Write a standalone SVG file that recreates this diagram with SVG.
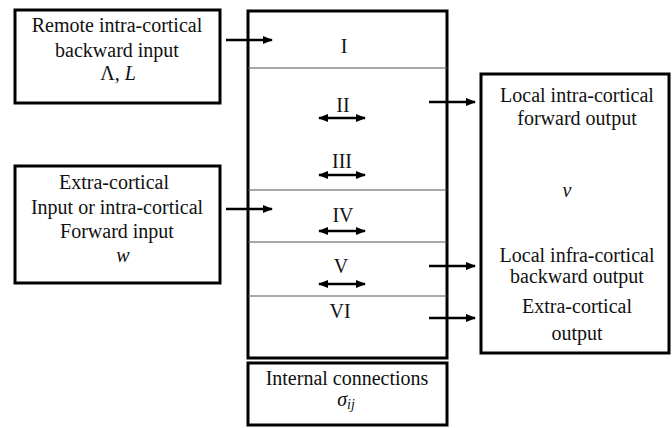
<svg xmlns="http://www.w3.org/2000/svg" width="672" height="428" viewBox="0 0 672 428">
<defs>
<style>
.box{fill:#fff;stroke:#000;stroke-width:3}
.layer{fill:none;stroke:#555;stroke-width:1.2}
.t{font-family:"Liberation Serif","Times New Roman",serif;font-size:20px;fill:#111;text-anchor:middle}
.m{font-style:italic}
.ar{stroke:#000;stroke-width:2.5;fill:none}
</style>
<marker id="ah" viewBox="0 0 10 10" refX="9" refY="5" markerWidth="10" markerHeight="10" markerUnits="userSpaceOnUse" orient="auto-start-reverse">
<path d="M0,1 L10,5 L0,9 Z" fill="#000"/>
</marker>
</defs>
<rect width="672" height="428" fill="#fff"/>
<g id="remote-input">
<rect class="box" x="15" y="10" width="205" height="93"/>
<text class="t" x="117" y="32">Remote intra-cortical</text>
<text class="t" x="117" y="57">backward input</text>
<text class="t" x="118" y="80">Λ, <tspan class="m">L</tspan></text>
</g>
<g id="forward-input">
<rect class="box" x="15" y="166" width="205" height="117"/>
<text class="t" x="114" y="189">Extra-cortical</text>
<text class="t" x="117" y="214">Input or intra-cortical</text>
<text class="t" x="117" y="238">Forward input</text>
<text class="t m" x="123" y="262">w</text>
</g>
<g id="cortex">
<rect class="box" x="248" y="11" width="199" height="347"/>
<line class="layer" x1="248" y1="68" x2="447" y2="68"/>
<line class="layer" x1="248" y1="190" x2="447" y2="190"/>
<line class="layer" x1="248" y1="242" x2="447" y2="242"/>
<line class="layer" x1="248" y1="296" x2="447" y2="296"/>
<text class="t" x="344" y="53">I</text>
<text class="t" x="343" y="112">II</text>
<text class="t" x="342" y="168">III</text>
<text class="t" x="343" y="222">IV</text>
<text class="t" x="341" y="273">V</text>
<text class="t" x="340" y="318">VI</text>
</g>
<g id="internal">
<rect class="box" x="248" y="363" width="199" height="62"/>
<text class="t" x="347" y="385">Internal connections</text>
<text class="t m" x="346" y="406" font-size="22">σ<tspan font-size="14" dy="3">ij</tspan></text>
</g>
<g id="outputs">
<rect class="box" x="481" y="74" width="188" height="279"/>
<text class="t" x="577" y="102">Local intra-cortical</text>
<text class="t" x="577" y="125">forward output</text>
<text class="t m" x="567" y="197" font-size="22">v</text>
<text class="t" x="577" y="262">Local infra-cortical</text>
<text class="t" x="577" y="283">backward output</text>
<text class="t" x="577" y="313">Extra-cortical</text>
<text class="t" x="577" y="340">output</text>
</g>
<g id="connectors">
<line class="ar" x1="226" y1="40" x2="272" y2="40" marker-end="url(#ah)"/>
<line class="ar" x1="226" y1="209" x2="272" y2="209" marker-end="url(#ah)"/>
<line class="ar" x1="429" y1="102" x2="475" y2="102" marker-end="url(#ah)"/>
<line class="ar" x1="429" y1="266" x2="475" y2="266" marker-end="url(#ah)"/>
<line class="ar" x1="429" y1="318" x2="475" y2="318" marker-end="url(#ah)"/>
<line class="ar" x1="319" y1="118" x2="365" y2="118" marker-start="url(#ah)" marker-end="url(#ah)"/>
<line class="ar" x1="319" y1="175" x2="365" y2="175" marker-start="url(#ah)" marker-end="url(#ah)"/>
<line class="ar" x1="319" y1="231" x2="365" y2="231" marker-start="url(#ah)" marker-end="url(#ah)"/>
<line class="ar" x1="319" y1="284" x2="365" y2="284" marker-start="url(#ah)" marker-end="url(#ah)"/>
</g>
</svg>
